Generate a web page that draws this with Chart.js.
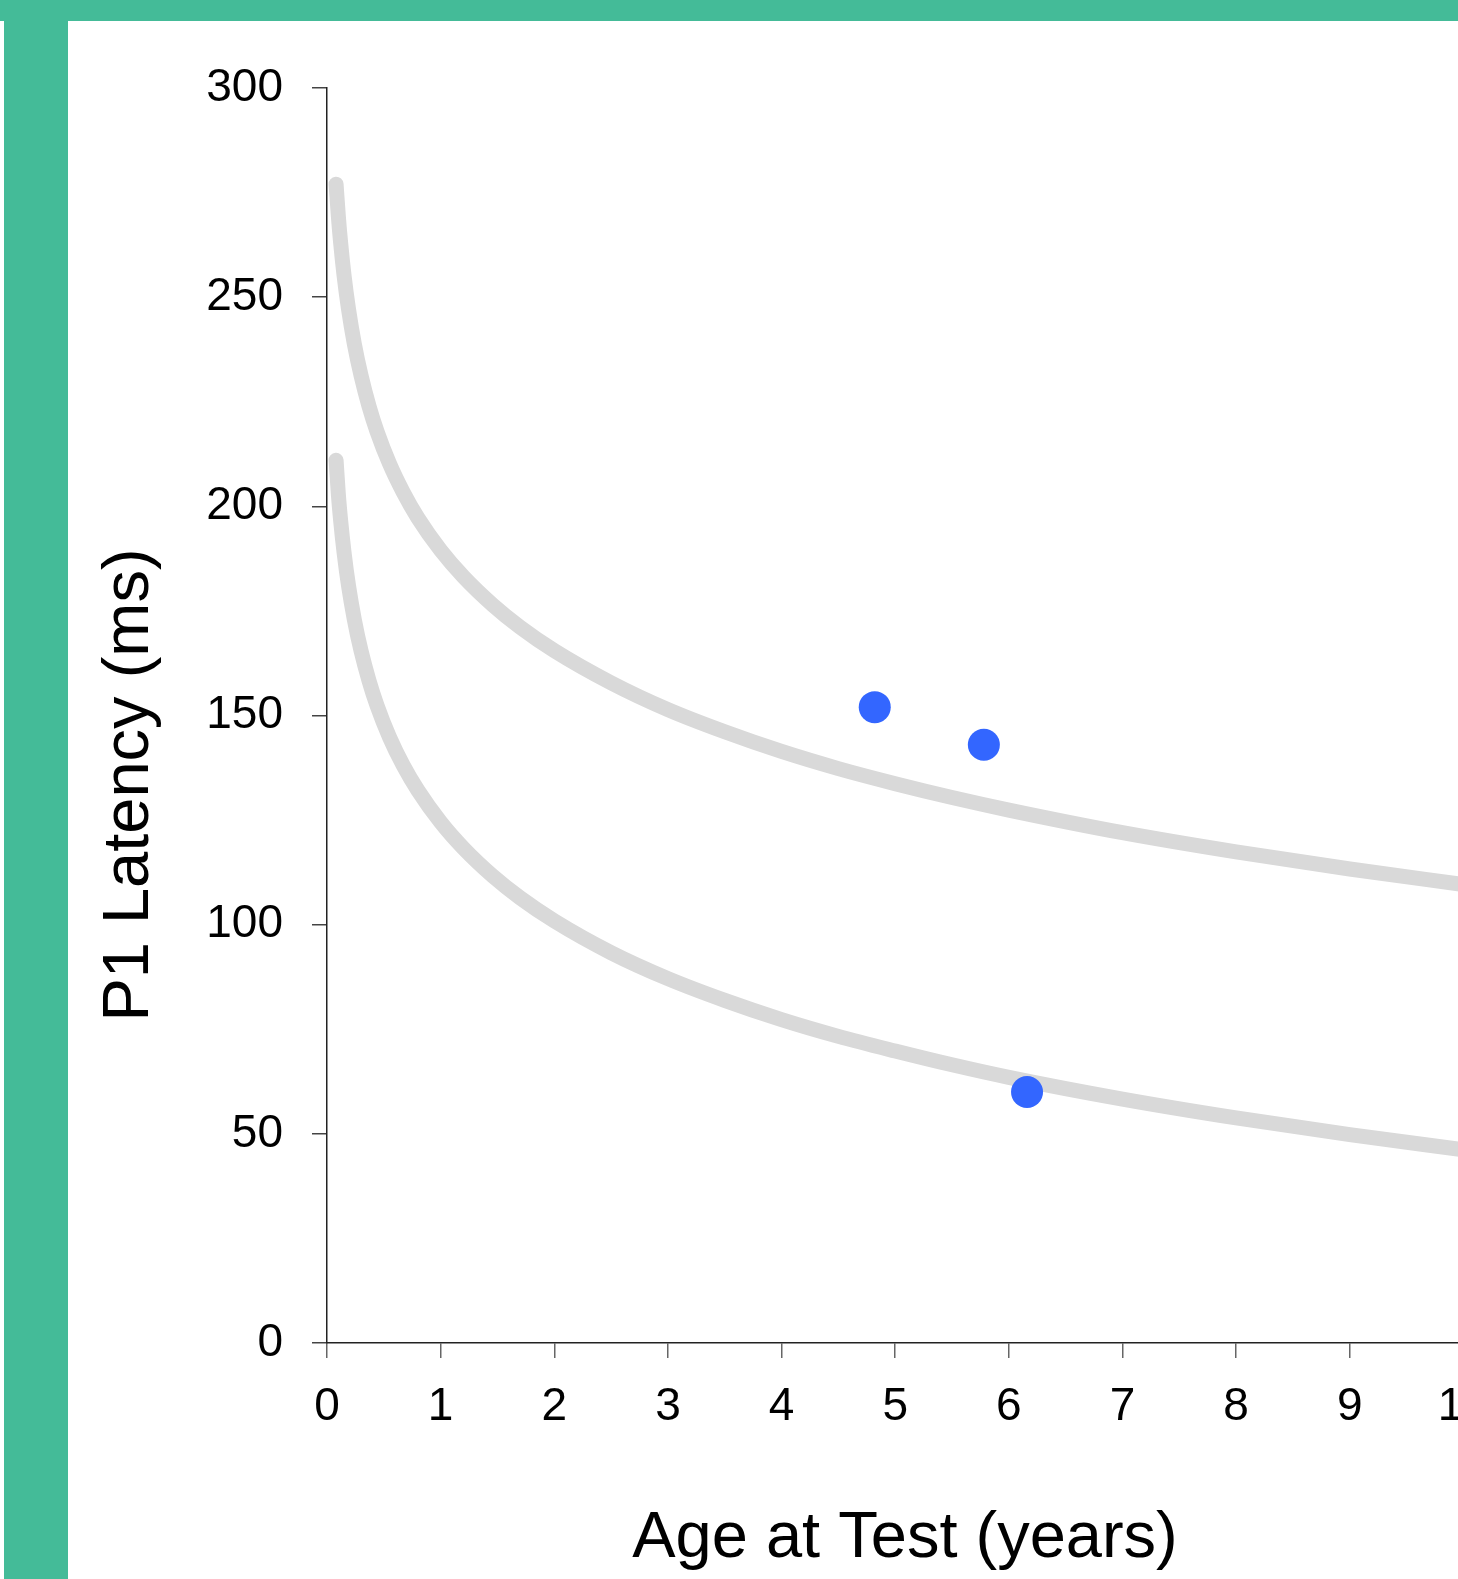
<!DOCTYPE html>
<html>
<head>
<meta charset="utf-8">
<title>P1 Latency by Age</title>
<script src="https://cdn.jsdelivr.net/npm/chart.js@4.4.1/dist/chart.umd.min.js"></script>
<style>
    html, body { margin: 0; padding: 0; background: #ffffff; overflow: hidden; }
    #frame { position: relative; width: 1458px; height: 1579px; overflow: hidden; background: #ffffff; }
    #topBand { position: absolute; left: 0; top: 0; width: 1458px; height: 21px; background: #44bb98; z-index: 2; }
    #leftBand { position: absolute; left: 4px; top: 21px; width: 64px; height: 1558px; background: #44bb98; z-index: 2; }
    #myScatterChart { position: absolute; left: 0; top: 0; z-index: 1; }
</style>
</head>
<body>
<div id="frame">
    <div id="topBand"></div>
    <div id="leftBand"></div>
    <canvas id="myScatterChart" width="1511" height="1579"></canvas>
</div>
<script>
/**
 * Values
 */
var upperAge     = [0.08, 0.1, 0.12, 0.15, 0.19, 0.24, 0.3, 0.37, 0.44, 0.55, 0.67, 0.8, 1.0, 1.2, 1.46, 1.7, 2.0, 2.5, 3.0, 3.5, 4.0, 4.5, 5.0, 5.5, 6.0, 7.0, 8.0, 9.0, 10];
var upperLatency = [277, 269.3, 263, 255.2, 247, 238.9, 231.2, 223.9, 217.9, 210.2, 203.4, 197.2, 189.5, 183.2, 176.4, 171.1, 165.5, 157.8, 151.4, 146.1, 141.4, 137.3, 133.7, 130.4, 127.4, 122, 117.4, 113.3, 109.6];

var lowerAge     = [0.08, 0.1, 0.12, 0.15, 0.19, 0.24, 0.3, 0.37, 0.44, 0.55, 0.67, 0.8, 1.0, 1.2, 1.46, 1.7, 2.0, 2.5, 3.0, 3.5, 4.0, 4.5, 5.0, 5.5, 6.0, 7.0, 8.0, 9.0, 10];
var lowerLatency = [211, 202.8, 196.6, 189, 180.9, 173, 165.4, 158.3, 152.4, 144.8, 138.1, 132.1, 124.5, 118.3, 111.6, 106.4, 100.9, 93.3, 87.1, 81.9, 77.3, 73.3, 69.8, 66.5, 63.5, 58.3, 53.8, 49.8, 46.2];

var patientAge     = [4.82, 5.78, 6.16];
var patientLatency = [152, 143, 60];

var xTicks = [0, 1, 2, 3, 4, 5, 6, 7, 8, 9, 10];
var yTicks = [0, 50, 100, 150, 200, 250, 300];

var xTitle = "Age at Test (years)";
var yTitle = "P1 Latency (ms)";

var fontFamily = "'Liberation Sans', Arial, Helvetica, sans-serif";

/**
 * Join two arrays in x/y points for chart.js
 */
function toPoints(xs, ys) {
    var arr = [];
    for (var i = 0; i < xs.length; i++) {
        arr.push({x: xs[i], y: ys[i]});
    }
    return arr;
}

/**
 * Draw the axis titles where they stand in the picture
 */
var axisTitles = {
    id: 'axisTitles',
    afterDraw: function (chart) {
        var ctx = chart.ctx;
        ctx.save();
        ctx.fillStyle = "#000000";
        ctx.font = "65px " + fontFamily;
        ctx.textAlign = "center";
        ctx.textBaseline = "middle";

        ctx.fillText(xTitle, 905, 1539);

        ctx.translate(130, 785);
        ctx.rotate(-Math.PI / 2);
        ctx.fillText(yTitle, 0, 0);
        ctx.restore();
    }
};

/**
 * Line dataset for a limit curve
 */
function limitCurve(label, xs, ys) {
    return {
        label: label,
        type: 'line',
        order: 1,
        data: toPoints(xs, ys),
        borderColor: "#d9d9d9",
        borderWidth: 15,
        borderCapStyle: 'round',
        borderJoinStyle: 'round',
        cubicInterpolationMode: 'monotone',
        fill: false,
        pointRadius: 0
    };
}

/**
 * Create and print the chart in canvas HTML
 */
function makeChart() {
    var graphData = {
        datasets: [{
            label: "Patients",
            type: 'scatter',
            order: 0,
            data: toPoints(patientAge, patientLatency),
            backgroundColor: "#3366ff",
            borderWidth: 0,
            pointRadius: 16,
            pointHoverRadius: 16
        },
            limitCurve("Upper limit", upperAge, upperLatency),
            limitCurve("Lower limit", lowerAge, lowerLatency)
        ]
    };

    var ctx = document.getElementById("myScatterChart").getContext("2d");

    var myScatterChart = new Chart(ctx, {
        type: 'scatter',
        data: graphData,
        plugins: [axisTitles],
        options: {
            responsive: false,
            animation: false,
            devicePixelRatio: 1,
            layout: { padding: { top: 88, right: 37, left: 0, bottom: 0 } },
            plugins: {
                legend: { display: false },
                tooltip: { enabled: false }
            },
            scales: {
                x: {
                    type: 'linear',
                    min: 0,
                    max: 10,
                    afterFit: function (scale) { scale.height = 236; },
                    afterBuildTicks: function (scale) {
                        scale.ticks = xTicks.map(function (v) { return {value: v}; });
                    },
                    border: { display: true, color: "#222222", width: 1.5 },
                    grid: { drawOnChartArea: false, drawTicks: true, tickLength: 15, color: "#666666", lineWidth: 1.5 },
                    ticks: { color: "#000000", padding: 22, maxRotation: 0, font: { family: fontFamily, size: 46 } },
                    title: { display: false }
                },
                y: {
                    type: 'linear',
                    min: 0,
                    max: 300,
                    afterFit: function (scale) { scale.width = 327; },
                    afterBuildTicks: function (scale) {
                        scale.ticks = yTicks.map(function (v) { return {value: v}; });
                    },
                    border: { display: true, color: "#222222", width: 1.5 },
                    grid: { drawOnChartArea: false, drawTicks: true, tickLength: 15, color: "#444444", lineWidth: 1.5 },
                    ticks: { color: "#000000", padding: 29, font: { family: fontFamily, size: 46 } },
                    title: { display: false }
                }
            }
        }
    });
}

makeChart();
</script>
</body>
</html>
